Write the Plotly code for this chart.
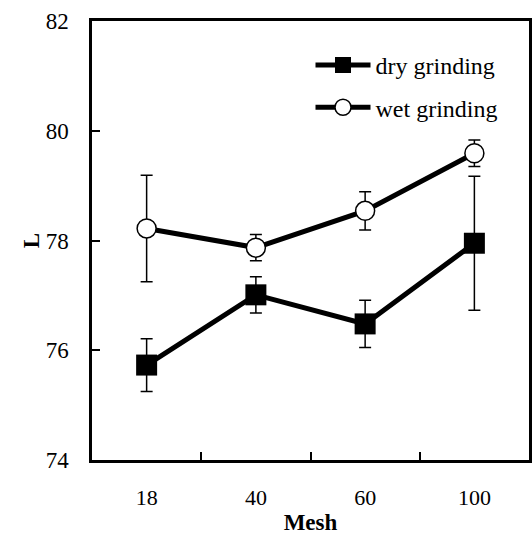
import plotly.graph_objects as go

mesh = ["18", "40", "60", "100"]
dry_L = [75.73, 77.01, 76.48, 77.95]
dry_err = [0.48, 0.33, 0.43, 1.22]
wet_L = [78.22, 77.87, 78.54, 79.59]
wet_err = [0.97, 0.24, 0.35, 0.24]

font_family = "Liberation Serif"

fig = go.Figure()
fig.add_trace(go.Scatter(
    x=mesh, y=dry_L, name="dry grinding", mode="lines+markers", legendgroup="dry",
    line=dict(color="black", width=5),
    marker=dict(symbol="square", size=21, color="black"),
    error_y=dict(type="data", array=dry_err, visible=True, color="black", thickness=1.5, width=6),
))
fig.add_trace(go.Scatter(
    x=mesh, y=wet_L, name="wet grinding", mode="lines+markers", legendgroup="wet",
    line=dict(color="black", width=5),
    marker=dict(symbol="circle", size=19, color="white", line=dict(color="black", width=1.5)),
    error_y=dict(type="data", array=wet_err, visible=True, color="black", thickness=1.5, width=6),
))

fig.update_layout(
    width=532, height=536,
    margin=dict(l=92, r=0, t=21, b=76),
    paper_bgcolor="white", plot_bgcolor="white",
    font=dict(family=font_family, size=22, color="black"),
    showlegend=True,
    legend=dict(x=0.5, y=0.95, xanchor="left", yanchor="top",
                bgcolor="rgba(0,0,0,0)", font=dict(family=font_family, size=24),
                itemwidth=55, tracegroupgap=8),
    xaxis=dict(
        type="category", range=[-0.5, 3.5], tickson="boundaries", ticks="inside", ticklen=8,
        tickwidth=1.5, tickcolor="black", showline=True, linecolor="black", linewidth=2.5,
        mirror=True, showgrid=False, zeroline=False, ticklabelstandoff=16,
        title=dict(text="<b>Mesh</b>", font=dict(size=23), standoff=5),
    ),
    yaxis=dict(
        range=[74, 82], dtick=2, ticks="inside", ticklen=8, tickwidth=1.5,
        tickcolor="black", showline=True, linecolor="black", linewidth=2.5, mirror=True,
        showgrid=False, zeroline=False, ticklabelstandoff=16, tickfont=dict(size=23),
        title=dict(text="<b>L</b>", font=dict(size=23), standoff=0),
    ),
)

fig.write_html("out.html", config={"displayModeBar": False},
               post_script="document.body.style.margin='0';document.body.style.overflow='hidden';")
